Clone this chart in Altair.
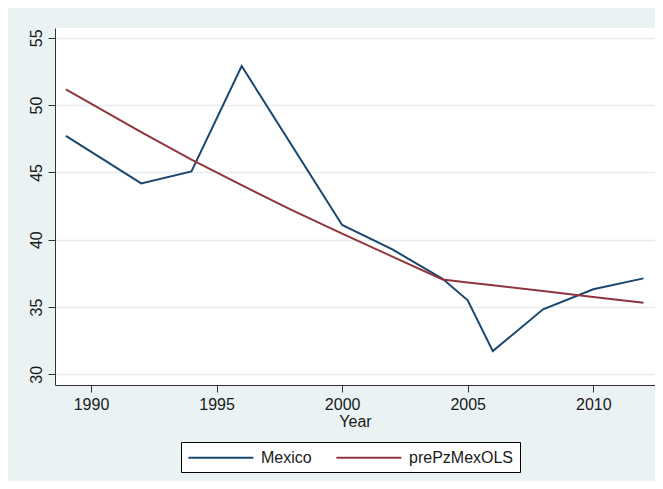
import altair as alt
import pandas as pd

# ---- data ----
series_names = ["Mexico", "prePzMexOLS"]
series_colors = ["#1A476F", "#90353B"]

years_mexico = [1989, 1992, 1994, 1996, 2000, 2002, 2004, 2005, 2006, 2008, 2010, 2012]
values_mexico = [47.72, 44.18, 45.07, 52.90, 41.10, 39.28, 37.10, 35.50, 31.73, 34.83, 36.32, 37.13]

years_ols = [1989, 1992, 1994, 1996, 1998, 2000, 2002, 2004, 2005, 2006, 2008, 2010, 2012]
values_ols = [51.17, 48.00, 45.95, 44.05, 42.20, 40.45, 38.75, 37.05, 36.83, 36.62, 36.19, 35.75, 35.32]

x_ticks = [1990, 1995, 2000, 2005, 2010]
y_ticks = [30, 35, 40, 45, 50, 55]

rows = []
for y, v in zip(years_mexico, values_mexico):
    rows.append({"Year": y, "Value": v, "Series": series_names[0]})
for y, v in zip(years_ols, values_ols):
    rows.append({"Year": y, "Value": v, "Series": series_names[1]})
df = pd.DataFrame(rows)

FONT = "Liberation Sans"
TEXT = "#1a1a1a"
AXIS = "#333333"

chart = alt.Chart(df).mark_line(strokeWidth=2, clip=True).encode(
    x=alt.X(
        "Year:Q",
        scale=alt.Scale(domain=[1988.567, 2012.457], nice=False, zero=False),
        axis=alt.Axis(
            values=x_ticks, format="d", title="Year", grid=False,
            tickSize=7, tickColor=AXIS, domainColor=AXIS,
            labelFont=FONT, labelFontSize=16, labelColor=TEXT, labelPadding=4,
            titleFont=FONT, titleFontSize=16, titleFontWeight="normal",
            titleColor=TEXT, titlePadding=1,
        ),
    ),
    y=alt.Y(
        "Value:Q",
        scale=alt.Scale(domain=[29.21, 55.725], nice=False, zero=False),
        axis=alt.Axis(
            values=y_ticks, format="d", title=None, grid=True,
            gridColor="#E4ECEE", gridWidth=1.5,
            tickSize=7, tickColor=AXIS, domainColor=AXIS,
            labelFont=FONT, labelFontSize=16, labelColor=TEXT,
            labelAngle=270, labelAlign="center", labelBaseline="alphabetic",
            labelPadding=7,
        ),
    ),
    color=alt.Color(
        "Series:N",
        scale=alt.Scale(domain=series_names, range=series_colors),
        legend=alt.Legend(
            title=None, orient="none", legendX=126, legendY=414,
            direction="horizontal",
            symbolType="M-1,0H7", symbolSize=264, symbolStrokeWidth=2,
            labelOffset=55, columnPadding=20, padding=6,
            strokeColor="black", fillColor="white", cornerRadius=0,
            labelFont=FONT, labelFontSize=16, labelColor=TEXT,
        ),
    ),
    order=alt.Order("Year:Q"),
).properties(
    width=600,
    height=357,
    autosize="none",
    padding={"left": 47, "top": 20, "right": 0, "bottom": 96},
    background="#EAF2F3",
).configure_view(
    fill="white", strokeWidth=0
)

chart.save("out.html", embed_options={"renderer": "svg", "actions": False})
